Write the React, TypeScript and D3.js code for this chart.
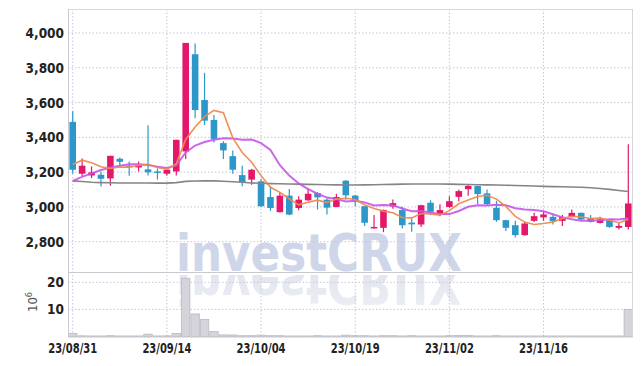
import React from "react";
import * as d3 from "d3";

const dates = [
  "23/08/31","23/09/01","23/09/04","23/09/05","23/09/06","23/09/07","23/09/08","23/09/11","23/09/12","23/09/13",
  "23/09/14","23/09/15","23/09/18","23/09/19","23/09/20","23/09/21","23/09/22","23/09/25","23/09/26","23/09/27",
  "23/10/04","23/10/05","23/10/06","23/10/10","23/10/11","23/10/12","23/10/13","23/10/16","23/10/17","23/10/18",
  "23/10/19","23/10/20","23/10/23","23/10/24","23/10/25","23/10/26","23/10/27","23/10/30","23/10/31","23/11/01",
  "23/11/02","23/11/03","23/11/06","23/11/07","23/11/08","23/11/09","23/11/10","23/11/13","23/11/14","23/11/15",
  "23/11/16","23/11/17","23/11/20","23/11/21","23/11/22","23/11/23","23/11/24","23/11/27","23/11/28","23/11/29",
];

const opens = [
  3489,3191,3181,3185,3164,3277,3237,3227,3216,3204,
  3191,3204,3319,3878,3615,3500,3367,3292,3183,3157,
  3147,3057,2970,3065,2994,3038,3080,3042,3000,3151,
  3065,3004,2878,2880,3003,2982,2910,2899,3024,2963,
  3000,3058,3102,3120,3078,2995,2924,2895,2838,2920,
  2940,2943,2920,2943,2966,2934,2908,2928,2880,2885,
];
const highs = [
  3550,3279,3233,3204,3294,3284,3261,3261,3470,3222,
  3214,3386,3943,3939,3771,3529,3378,3325,3237,3218,
  3160,3118,3084,3103,3061,3107,3085,3050,3076,3155,
  3068,3006,2953,2985,3043,3001,2934,3012,3039,3016,
  3062,3101,3129,3122,3101,3035,2926,2920,2914,2966,
  2976,2953,2953,2986,2968,2953,2943,2930,2908,3360,
];
const lows = [
  3191,3176,3166,3118,3122,3233,3180,3204,3181,3157,
  3180,3181,3275,3510,3471,3370,3275,3191,3119,3128,
  3000,2977,2968,2952,2981,3035,2985,2956,2998,3042,
  3004,2890,2876,2855,2990,2876,2857,2885,2953,2947,
  2995,3033,3064,3016,3005,2914,2862,2825,2835,2914,
  2920,2899,2891,2940,2924,2910,2905,2880,2870,2870,
];
const closes = [
  3214,3237,3199,3162,3294,3260,3232,3242,3199,3200,
  3214,3386,3943,3557,3496,3391,3325,3214,3141,3214,
  3004,2994,3065,2956,3042,3076,3055,2996,3057,3067,
  3038,2909,2885,2983,3022,2895,2900,3010,2972,2982,
  3033,3091,3121,3074,3016,2924,2880,2838,2905,2947,
  2957,2918,2943,2966,2928,2914,2928,2885,2891,3020,
];

const maShort = [
  3244,3269,3254,3231,3221,3230,3229,3238,3245,3227,
  3217,3248,3388,3460,3519,3555,3542,3397,3313,3257,
  3180,3113,3084,3047,3012,3027,3039,3025,3045,3050,
  3043,3013,2991,2976,2967,2939,2937,2962,2960,2952,
  2979,3018,3040,3060,3067,3045,3003,2946,2913,2899,
  2905,2913,2934,2946,2942,2934,2936,2924,2909,2928,
];
const maMid = [
  3150,3173,3193,3212,3225,3237,3245,3246,3241,3231,
  3224,3239,3313,3353,3373,3386,3395,3393,3387,3388,
  3367,3328,3240,3180,3135,3103,3076,3054,3046,3031,
  3035,3026,3008,3011,3009,2991,2975,2977,2968,2960,
  2959,2977,3001,3010,3009,3012,3010,2993,2986,2983,
  2975,2958,2940,2929,2921,2920,2924,2929,2928,2935,
];
const maLong = [
  3150,3146,3142,3140,3139,3138,3138,3138,3138,3137,
  3137,3140,3147,3149,3150,3150,3148,3145,3142,3138,
  3136,3134,3133,3132,3131,3130,3129,3128,3127,3126,
  3126,3127,3128,3129,3130,3131,3132,3132,3132,3132,
  3131,3130,3129,3128,3127,3126,3125,3123,3122,3120,
  3118,3117,3116,3115,3113,3110,3106,3101,3095,3089,
];

const volumes = [
  1.1,0.25,0.2,0.2,0.3,0.2,0.2,0.2,0.85,0.2,
  0.25,1.1,21.5,8.3,6.3,1.8,0.6,0.55,0.3,0.3,
  0.5,0.3,0.3,0.2,0.2,0.2,0.3,0.2,0.2,0.5,
  0.3,0.3,0.2,0.3,0.3,0.2,0.3,0.2,0.2,0.2,
  0.3,0.4,0.4,0.2,0.2,0.3,0.2,0.2,0.2,0.2,
  0.2,0.2,0.2,0.2,0.2,0.2,0.2,0.2,0.2,10.0,
];

const priceTicks = [2800, 3000, 3200, 3400, 3600, 3800, 4000];
const volTicks = [10, 20];
const dateTicks = ["23/08/31", "23/09/14", "23/10/04", "23/10/19", "23/11/02", "23/11/16"];

const W = 642, H = 366;
const L = 68, R = 633, T = 9, PB = 272, VB = 336.5;
const UP = "#e3186b", DOWN = "#2e97c9";
const GRID = "#c3c7da";
const FONT = "'DejaVu Sans Condensed', 'Liberation Sans Narrow', 'Roboto Condensed', 'DejaVu Sans', sans-serif";

export default function App() {
  const idx = dates.map((_, i) => i);
  const x = d3.scaleBand<number>().domain(idx).range([L, R]).padding(0);
  const bw = x.bandwidth();
  const cx = (i: number) => (x(i) as number) + bw / 2;
  const y = d3.scaleLinear().domain([2626, 4138]).range([PB, T]);
  const yv = d3.scaleLinear().domain([0, 23.8]).range([VB, PB]);

  const line = (arr: number[]) =>
    d3.line<number>().x((_, i) => cx(i)).y((d) => y(d)).curve(d3.curveLinear)(arr) || "";

  const bodyW = bw * 0.7;

  return (
    <svg width={W} height={H} style={{ position: "absolute", left: 0, top: 0, background: "#fff" }}>
      <defs>
        <linearGradient id="fade" x1="0" y1="0" x2="0" y2="1">
          <stop offset="0" stopColor="#fff" stopOpacity="1" />
          <stop offset="1" stopColor="#fff" stopOpacity="0.35" />
        </linearGradient>
        <mask id="reflMask" maskUnits="userSpaceOnUse" x="0" y={PB + 3} width={W} height="70">
          <rect x="0" y={PB + 3} width={W} height="70" fill="url(#fade)" />
        </mask>
        <clipPath id="plotClip">
          <rect x={L} y={T} width={R - L} height={VB - T} />
        </clipPath>
      </defs>

      {/* watermark */}
      <g clipPath="url(#plotClip)">
        <text x={176} y={PB - 1} fontFamily="'DejaVu Sans', sans-serif" fontWeight="bold" fontSize={52}
          fill="#d0d6e9" textLength={286} lengthAdjust="spacingAndGlyphs">investCRUX</text>
        <g mask="url(#reflMask)">
          <text x={176} y={PB - 1} fontFamily="'DejaVu Sans', sans-serif" fontWeight="bold" fontSize={52}
            fill="#e4e6ef" textLength={286} lengthAdjust="spacingAndGlyphs"
            transform={`translate(0, ${2 * PB + 6}) scale(1,-1.05)`}>investCRUX</text>
        </g>
      </g>

      {/* grid */}
      {priceTicks.map((t) => (
        <line key={"pg" + t} x1={L} x2={R} y1={y(t)} y2={y(t)} stroke={GRID} strokeDasharray="1.5,2" />
      ))}
      {volTicks.map((t) => (
        <line key={"vg" + t} x1={L} x2={R} y1={yv(t)} y2={yv(t)} stroke={GRID} strokeDasharray="1.5,2" />
      ))}
      {dateTicks.map((d) => {
        const i = dates.indexOf(d);
        return <line key={"xg" + d} x1={cx(i)} x2={cx(i)} y1={T} y2={VB} stroke={GRID} strokeDasharray="1.5,2" />;
      })}

      {/* volume bars */}
      {volumes.map((v, i) => (
        <rect key={"v" + i} x={(x(i) as number) + 0.5} y={yv(v)} width={bw - 1} height={VB - yv(v)}
          fill="#d4d4da" stroke="#b9b9c2" strokeWidth={0.8} />
      ))}

      {/* candles */}
      {idx.map((i) => {
        const o = opens[i], c = closes[i], h = highs[i], l = lows[i];
        const col = c >= o ? UP : DOWN;
        const top = y(Math.max(o, c)), bot = y(Math.min(o, c));
        return (
          <g key={"c" + i}>
            <line x1={cx(i)} x2={cx(i)} y1={y(h)} y2={y(l)} stroke={col} strokeWidth={1.2} />
            <rect x={cx(i) - bodyW / 2} y={top} width={bodyW} height={Math.max(1.5, bot - top)} fill={col} />
          </g>
        );
      })}

      {/* moving averages */}
      <path d={line(maLong)} fill="none" stroke="#858585" strokeWidth={1.6} />
      <path d={line(maMid)} fill="none" stroke="#c855e8" strokeWidth={2} strokeOpacity={0.9} />
      <path d={line(maShort)} fill="none" stroke="#ee8a4e" strokeWidth={1.6} strokeOpacity={0.95} />

      {/* frame */}
      <line x1={L} x2={R} y1={T + 0.5} y2={T + 0.5} stroke="#d9d9dc" />
      <line x1={L + 0.5} x2={L + 0.5} y1={T} y2={VB} stroke="#c9cad6" />
      <line x1={R - 0.5} x2={R - 0.5} y1={T} y2={VB} stroke="#d6d6da" />
      <line x1={L} x2={R} y1={PB + 0.5} y2={PB + 0.5} stroke="#c9c9cc" />
      <line x1={L} x2={R} y1={VB + 0.5} y2={VB + 0.5} stroke="#c9c9cc" />

      {/* y labels */}
      {priceTicks.map((t) => (
        <text key={"pl" + t} x={64} y={y(t) + 5} textAnchor="end" fontFamily={FONT} fontWeight="bold"
          fontSize={13.5} fill="#222">
          {d3.format(",")(t)}
        </text>
      ))}
      {volTicks.map((t) => (
        <text key={"vl" + t} x={64} y={yv(t) + 5} textAnchor="end" fontFamily={FONT} fontWeight="bold"
          fontSize={13.5} fill="#222">
          {t}
        </text>
      ))}
      <text transform="translate(37,302) rotate(-90)" textAnchor="middle" fontFamily={FONT} fontSize={13} fill="#555">
        10<tspan dy={-5} fontSize={9}>6</tspan>
      </text>

      {/* x labels */}
      {dateTicks.map((d) => {
        const i = dates.indexOf(d);
        return (
          <text key={"xl" + d} x={cx(i)} y={353} textAnchor="middle" fontFamily={FONT} fontWeight="bold"
            fontSize={13.5} fill="#222" textLength={49} lengthAdjust="spacingAndGlyphs">
            {d}
          </text>
        );
      })}
    </svg>
  );
}
